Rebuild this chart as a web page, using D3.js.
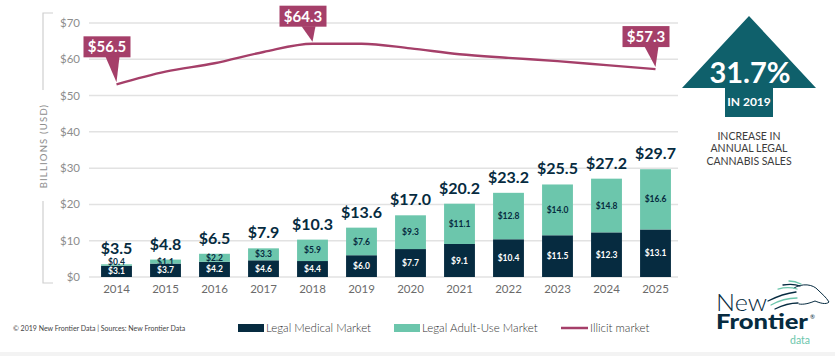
<!DOCTYPE html>
<html><head><meta charset="utf-8">
<script src="https://cdn.jsdelivr.net/npm/d3@7"></script>
<style>
html,body{margin:0;padding:0;background:#fff;}
svg{display:block;font-family:Lato,"Open Sans",sans-serif;}
</style></head>
<body>
<svg id="chart" width="835" height="356"></svg>
<script>
const years = ["2014","2015","2016","2017","2018","2019","2020","2021","2022","2023","2024","2025"];
const medical = [3.1,3.7,4.2,4.6,4.4,6.0,7.7,9.1,10.4,11.5,12.3,13.1];
const adultUse = [0.4,1.1,2.2,3.3,5.9,7.6,9.3,11.1,12.8,14.0,14.8,16.6];
const totalLabels = ["$3.5","$4.8","$6.5","$7.9","$10.3","$13.6","$17.0","$20.2","$23.2","$25.5","$27.2","$29.7"];
const medicalLabels = ["$3.1","$3.7","$4.2","$4.6","$4.4","$6.0","$7.7","$9.1","$10.4","$11.5","$12.3","$13.1"];
const adultLabels = ["$0.4","$1.1","$2.2","$3.3","$5.9","$7.6","$9.3","$11.1","$12.8","$14.0","$14.8","$16.6"];
const illicit = [53.1,56.6,58.9,62.0,64.3,64.3,63.0,61.4,60.4,59.5,58.4,57.3];
const calloutYears = ["2014","2018","2025"];
const calloutLabels = ["$56.5","$64.3","$57.3"];
const yTicks = [0,10,20,30,40,50,60,70];
const legendLabels = ["Legal Medical Market","Legal Adult-Use Market","Illicit market"];
const captionLines = ["INCREASE IN","ANNUAL LEGAL","CANNABIS SALES"];

const C = {med:"#062b40", adult:"#6cc6ac", illicit:"#a53f69", teal:"#0f606b", grid:"#e2e2e2", tick:"#8d8d8d"};
const svg = d3.select("#chart");

const x = d3.scaleBand().domain(years).range([92,680]).paddingInner(0.37).paddingOuter(0.185);
const y = d3.scaleLinear().domain([0,70]).range([277,23]);

// gridlines
svg.append("g").selectAll("line").data(yTicks).join("line")
  .attr("x1",89).attr("x2",678).attr("y1",d=>y(d)).attr("y2",d=>y(d))
  .attr("stroke",C.grid).attr("stroke-width",1.5);

// y tick labels
svg.append("g").selectAll("text").data(yTicks).join("text")
  .attr("x",80).attr("y",d=>y(d)).attr("dy","0.35em").attr("text-anchor","end")
  .attr("font-size",11.5).attr("fill",C.tick).text(d=>"$"+d);

// y bracket
const br = svg.append("g").attr("stroke","#cfcfcf").attr("stroke-width",1.2).attr("fill","none");
br.append("path").attr("d","M53,13H43V90");
br.append("path").attr("d","M43,201V283H53");
svg.append("text").attr("transform","translate(46.5,146) rotate(-90)").attr("text-anchor","middle")
  .attr("font-size",9.5).attr("letter-spacing",1.2).attr("fill",C.tick).text("BILLIONS (USD)");

// bars
const bars = svg.append("g");
years.forEach((yr,i)=>{
  const x0 = x(yr), w = x.bandwidth();
  bars.append("rect").attr("x",x0).attr("width",w)
    .attr("y",y(medical[i])).attr("height",y(0)-y(medical[i])).attr("fill",C.med);
  bars.append("rect").attr("x",x0).attr("width",w)
    .attr("y",y(medical[i]+adultUse[i])).attr("height",y(medical[i])-y(medical[i]+adultUse[i])).attr("fill",C.adult);
  const cx = x0 + w/2;
  bars.append("text").attr("x",cx).attr("y",(y(0)+y(medical[i]))/2).attr("dy","0.36em")
    .attr("text-anchor","middle").attr("font-size",8.5).attr("font-weight",700).attr("fill","#fff").text(medicalLabels[i]);
  bars.append("text").attr("x",cx).attr("y",(y(medical[i])+y(medical[i]+adultUse[i]))/2).attr("dy",i===0?"0.05em":"0.36em")
    .attr("text-anchor","middle").attr("font-size",8.5).attr("font-weight",700).attr("fill",C.med).text(adultLabels[i]);
  bars.append("text").attr("x",cx).attr("y",y(medical[i]+adultUse[i])-10)
    .attr("text-anchor","middle").attr("font-size",16).attr("font-weight",700).attr("fill",C.med).text(totalLabels[i]);
});

// x labels
svg.append("g").selectAll("text").data(years).join("text")
  .attr("x",d=>x(d)+x.bandwidth()/2).attr("y",293).attr("text-anchor","middle")
  .attr("font-size",11.5).attr("fill","#6b6b6b").text(d=>d);

// illicit line
const line = d3.line().x((d,i)=>x(years[i])+x.bandwidth()/2).y(d=>y(d)).curve(d3.curveMonotoneX);
svg.append("path").datum(illicit).attr("d",line).attr("fill","none").attr("stroke",C.illicit).attr("stroke-width",2.4);

// callouts
const gaps = [25,15,20];
calloutYears.forEach((yr,k)=>{
  const i = years.indexOf(yr);
  const tx = x(yr)+x.bandwidth()/2, ty = y(illicit[i])-2;
  const bb = ty - gaps[k], bh = 21, bw = 47, bx = tx-33;
  const g = svg.append("g");
  g.append("rect").attr("x",bx).attr("y",bb-bh).attr("width",bw).attr("height",bh).attr("fill",C.illicit);
  g.append("path").attr("d",`M${tx-11},${bb-0.5}L${tx+3},${bb-0.5}L${tx},${ty}Z`).attr("fill",C.illicit);
  g.append("text").attr("x",bx+bw/2).attr("y",bb-bh/2).attr("dy","0.36em").attr("text-anchor","middle")
    .attr("font-size",15).attr("font-weight",700).attr("fill","#fff").text(calloutLabels[k]);
});

// arrow callout
svg.append("path").attr("d","M749,16L816,88H773V117H725V88H682Z").attr("fill",C.teal);
svg.append("text").attr("x",750).attr("y",83).attr("text-anchor","middle").attr("font-size",29).attr("font-weight",700)
  .attr("fill","#fff").text("31.7%");
svg.append("text").attr("x",749).attr("y",106).attr("text-anchor","middle").attr("font-size",12).attr("font-weight",700)
  .attr("fill","#fff").text("IN 2019");
svg.append("g").selectAll("text").data(captionLines).join("text")
  .attr("x",749).attr("y",(d,i)=>139.5+i*12.5).attr("text-anchor","middle").attr("font-size",10.5)
  .attr("fill","#3c3c3c").text(d=>d);

// legend
const lg = svg.append("g");
lg.append("rect").attr("x",238).attr("y",324).attr("width",26).attr("height",8).attr("fill",C.med);
lg.append("text").attr("x",266).attr("y",332).attr("font-size",11.5).attr("font-weight",300).attr("fill","#333").text(legendLabels[0]);
lg.append("rect").attr("x",394).attr("y",324).attr("width",26).attr("height",8).attr("fill",C.adult);
lg.append("text").attr("x",422).attr("y",332).attr("font-size",11.5).attr("font-weight",300).attr("fill","#333").text(legendLabels[1]);
lg.append("line").attr("x1",561).attr("x2",588).attr("y1",328).attr("y2",328).attr("stroke",C.illicit).attr("stroke-width",2.5);
lg.append("text").attr("x",590).attr("y",332).attr("font-size",11.5).attr("font-weight",300).attr("fill","#333").text(legendLabels[2]);

// footer
svg.append("text").attr("x",13).attr("y",331).attr("font-size",7).attr("fill","#444")
  .text("© 2019  New Frontier Data | Sources: New Frontier Data");

// logo
const logo = svg.append("g");
logo.append("text").attr("x",716).attr("y",311).attr("font-size",24).attr("font-weight",300).attr("fill",C.med)
  .attr("textLength",51).attr("lengthAdjust","spacingAndGlyphs").text("New");
logo.append("text").attr("x",716).attr("y",328.5).attr("font-size",21).attr("font-weight",900).attr("fill",C.med)
  .attr("textLength",92).attr("lengthAdjust","spacingAndGlyphs").text("Frontier");
logo.append("text").attr("x",810).attr("y",319).attr("font-size",6).attr("fill",C.med).text("®");
logo.append("text").attr("x",790).attr("y",343.5).attr("font-size",10.5).attr("fill",C.adult).text("data");
const horse = logo.append("g").attr("fill","none").attr("stroke-linecap","round");
horse.append("path").attr("d","M794,288C802,283 813,284 818,290C822,294 826,297 829,302C826,305 820,303 815,301C810,303 804,305 799,304")
  .attr("stroke",C.med).attr("stroke-width",1);
[["M768,301C778,296 788,293 796,292",C.med],["M771,305C780,300 789,298 797,298",C.adult],["M775,309C783,305 791,303 798,303",C.med],
 ["M778,289C785,287 791,287 797,289",C.adult],["M783,285C789,284 795,284 800,286",C.med],["M789,281C793,281 797,282 801,284",C.adult]]
 .forEach(p=>horse.append("path").attr("d",p[0]).attr("stroke",p[1]).attr("stroke-width",1.3));

// bottom band
svg.append("rect").attr("x",0).attr("y",352).attr("width",835).attr("height",4).attr("fill","#f3f3f3");
</script>
</body></html>
